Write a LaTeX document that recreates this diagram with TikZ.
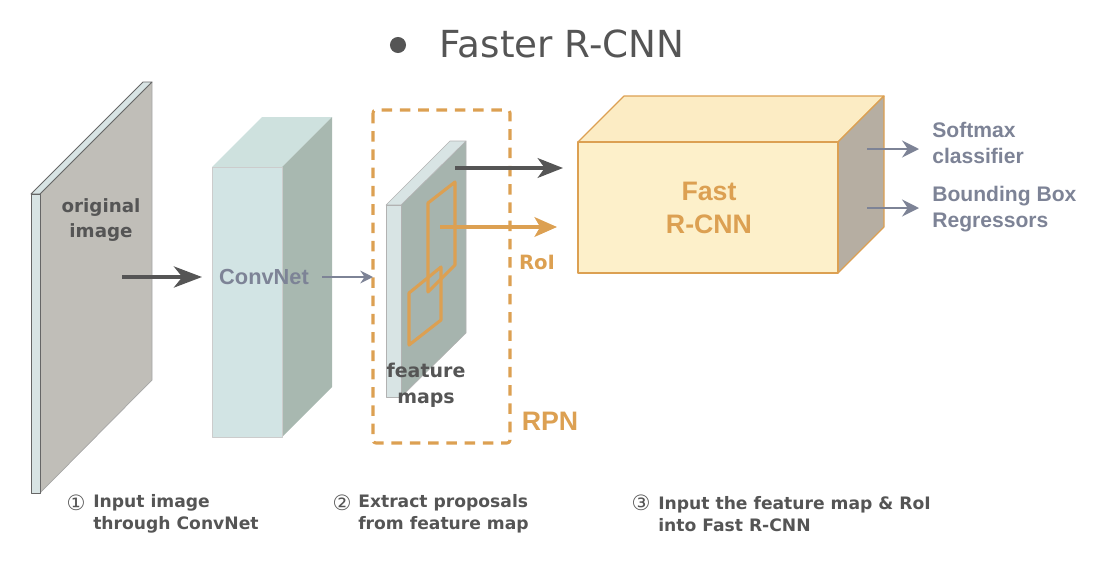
\documentclass[tikz,border=0pt]{standalone}
\usepackage{fontspec}
\setmainfont{DejaVu Sans}
\newfontfamily\boxfont{Liberation Sans}
\usetikzlibrary{arrows.meta}

\definecolor{inkgray}{RGB}{85,85,85}
\definecolor{bluegray}{RGB}{125,131,150}
\definecolor{roiorange}{RGB}{220,160,82}
\definecolor{imgface}{RGB}{192,190,184}
\definecolor{stripcol}{RGB}{216,228,228}
\definecolor{convfront}{RGB}{210,228,228}
\definecolor{convtop}{RGB}{206,225,222}
\definecolor{convside}{RGB}{168,184,176}
\definecolor{fmapface}{RGB}{166,180,174}
\definecolor{fastfront}{RGB}{253,240,202}
\definecolor{fasttop}{RGB}{252,236,196}
\definecolor{fastside}{RGB}{182,174,162}

\tikzset{
  caption/.style={text=inkgray, font=\bfseries\fontsize{12.2}{15.6}\selectfont, align=left, inner sep=0pt},
  stepnum/.style={text=inkgray, font=\fontsize{15}{15.6}\selectfont, inner sep=0pt},
  boxlabel/.style={font=\boxfont\bfseries\fontsize{15.5}{18.5}\selectfont, inner sep=0pt},
  darrow/.style={inkgray, line width=2.8pt, -{Stealth[length=20pt, width=15pt, inset=6pt]}},
  garrow/.style={bluegray, line width=1.6pt, -{Stealth[length=9pt, width=9pt, inset=3pt]}},
}

\begin{document}
\begin{tikzpicture}[x=0.025cm, y=-0.025cm, line join=round]
\useasboundingbox (0,0) rectangle (1103,574);

% title
\node[circle, fill=inkgray, minimum size=11.4pt, inner sep=0pt] (bullet) at (398,45) {};
\node[text=inkgray, font=\fontsize{26.5}{30}\selectfont, inner sep=0pt] (title) at (562,44) {Faster R-CNN};

% original image plate
\filldraw[fill=imgface, draw=gray!70, line width=0.5pt] (40,194) -- (152,82) -- (152,380) -- (40,493) -- cycle;
\filldraw[fill=stripcol, draw=gray!80!black, line width=0.6pt] (31,194) -- (143,82) -- (152,82) -- (40,194) -- cycle;
\filldraw[fill=stripcol, draw=gray!80!black, line width=0.6pt] (31,194) rectangle (40,493);
\node[text=inkgray, font=\bfseries\fontsize{13}{17.8}\selectfont, align=center, inner sep=0pt] (imglabel) at (101,220) {original\\image};

% ConvNet block
\fill[convtop] (212,167) -- (262,117) -- (332,117) -- (282,167) -- cycle;
\fill[convside] (282,167) -- (332,117) -- (332,387) -- (282,437) -- cycle;
\filldraw[fill=convfront, draw=gray!40, line width=0.4pt] (212,167) rectangle (282,437);
\node[boxlabel, text=bluegray] (convnet) at (264,277) {ConvNet};

% feature map plate
\filldraw[fill=fmapface, draw=gray!60, line width=0.4pt] (401,205) -- (466,141) -- (466,333) -- (401,397) -- cycle;
\filldraw[fill=stripcol, draw=gray!60, line width=0.4pt] (386,205) -- (450,141) -- (466,141) -- (401,205) -- cycle;
\filldraw[fill=stripcol, draw=gray!60, line width=0.4pt] (386,205) rectangle (401,397);
\draw[roiorange, line width=2.2pt] (428,203) -- (455,182) -- (455,265) -- (428,292) -- cycle;
\draw[roiorange, line width=2.2pt] (409,293) -- (441,267) -- (441,320) -- (409,345) -- cycle;
\node[text=inkgray, font=\bfseries\fontsize{13.5}{18.5}\selectfont, align=center, inner sep=0pt] (fmaplabel) at (426,385) {feature\\maps};

% RPN region
\draw[roiorange, line width=2.2pt, dash pattern=on 7.5pt off 5.5pt, rounded corners=2pt] (373,110) rectangle (510,443);
\node[boxlabel, text=roiorange, font=\boxfont\bfseries\fontsize{19}{22}\selectfont] (rpn) at (550,421) {RPN};
\node[text=roiorange, font=\bfseries\fontsize{14}{18}\selectfont, inner sep=0pt] (roi) at (537,262) {RoI};

% Fast R-CNN block
\filldraw[fill=fasttop, draw=roiorange, line width=0.8pt] (578,142) -- (624,96) -- (884,96) -- (838,142) -- cycle;
\filldraw[fill=fastside, draw=roiorange, line width=0.8pt] (838,142) -- (884,96) -- (884,227) -- (838,273) -- cycle;
\filldraw[fill=fastfront, draw=roiorange, line width=1pt] (578,142) rectangle (838,273);
\node[boxlabel, text=roiorange, font=\boxfont\bfseries\fontsize{19}{24}\selectfont, align=center] (fast) at (709,208) {Fast\\R-CNN};

% outputs
\node[boxlabel, text=bluegray, font=\boxfont\bfseries\fontsize{15}{18.5}\selectfont, align=left, anchor=west] (softmax) at (932,143) {Softmax\\classifier};
\node[boxlabel, text=bluegray, font=\boxfont\bfseries\fontsize{15}{18}\selectfont, align=left, anchor=west] (bbox) at (932,209) {Bounding Box\\Regressors};

% connectors
\coordinate (img out) at (122,277);
\coordinate (conv in) at (202,277);
\coordinate (conv out) at (322,277);
\coordinate (fmap in) at (373,277);
\coordinate (fmap out) at (455,168);
\coordinate (fast in) at (563,168);
\coordinate (roi out) at (440,227);
\coordinate (roi in) at (557,227);
\coordinate (cls out) at (867,149);
\coordinate (cls in) at (919,149);
\coordinate (reg out) at (867,208);
\coordinate (reg in) at (919,208);
\draw[darrow] (img out) -- (conv in);
\draw[garrow] (conv out) -- (fmap in);
\draw[darrow, line width=2.5pt, -{Stealth[length=18pt, width=14pt, inset=5pt]}] (fmap out) -- (fast in);
\draw[darrow, roiorange, line width=2.2pt, -{Stealth[length=16pt, width=14pt, inset=4pt]}] (roi out) -- (roi in);
\draw[garrow, line width=2pt, -{Stealth[length=12pt, width=12pt, inset=4pt]}] (cls out) -- (cls in);
\draw[garrow, line width=2pt, -{Stealth[length=12pt, width=12pt, inset=4pt]}] (reg out) -- (reg in);

% steps
\node[stepnum] (num1) at (76,503) {①};
\node[caption, anchor=west] (step1) at (93,514) {Input image\\through ConvNet};
\node[stepnum] (num2) at (342,503) {②};
\node[caption, anchor=west] (step2) at (358,514) {Extract proposals\\from feature map};
\node[stepnum] (num3) at (641,503) {③};
\node[caption, anchor=west] (step3) at (658,514) {Input the feature map \& RoI\\into Fast R-CNN};
\end{tikzpicture}
\end{document}
